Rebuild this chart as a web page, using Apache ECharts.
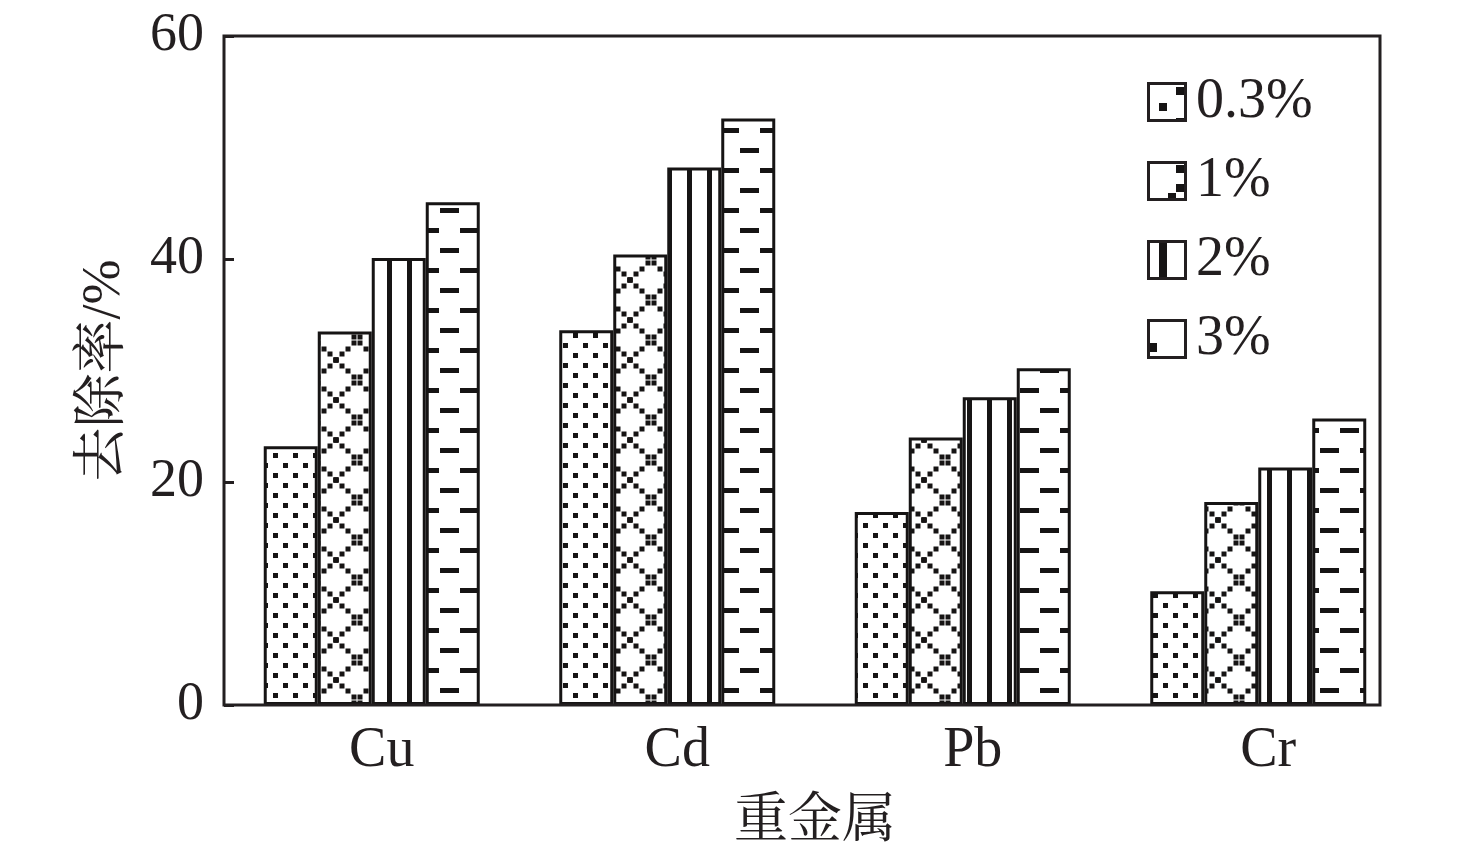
<!DOCTYPE html>
<html><head><meta charset="utf-8">
<script src="https://cdn.jsdelivr.net/npm/echarts@6/dist/echarts.min.js"></script>
<style>html,body{margin:0;padding:0;background:#fff}#c{width:1476px;height:855px}</style>
</head><body><div id="c"></div>
<script>
const categories = ['Cu', 'Cd', 'Pb', 'Cr'];
const seriesNames = ['0.3%', '1%', '2%', '3%'];
const s03 = [23.2, 33.6, 17.3, 10.2];
const s1 = [33.5, 40.4, 24.0, 18.2];
const s2 = [40.1, 48.2, 27.6, 21.3];
const s3 = [45.1, 52.6, 30.2, 25.7];
const yTicks = [0, 20, 40, 60];

const INK = '#161414';
function tile(w, h, draw) {
  const c = document.createElement('canvas');
  c.width = w; c.height = h;
  const g = c.getContext('2d');
  g.fillStyle = '#fff'; g.fillRect(0, 0, w, h);
  g.fillStyle = INK;
  draw(g, w, h);
  return { image: c, repeat: 'repeat' };
}
const patDots = tile(20, 20, g => { g.fillRect(3, 3, 5, 5); g.fillRect(13, 13, 5, 5); });
const patDiamond = tile(42, 40, (g, w, h) => {
  const n = 7;
  for (let i = 0; i <= n; i++) {
    const x = Math.round(i * w / n), y = Math.round(i * h / n);
    for (const [px, py] of [[x, y], [w - x, y]]) {
      for (const ox of [-w, 0, w]) for (const oy of [-h, 0, h]) {
        g.fillRect(px + ox - 2.5, py + oy - 2.5, 5, 5);
      }
    }
  }
});
const patLines = tile(20, 4, g => { g.fillRect(7, 0, 5, 4); });
const patDash = tile(40, 40, g => { g.fillRect(0, 8, 19, 5); g.fillRect(20, 28, 19, 5); });
const patterns = [patDots, patDiamond, patLines, patDash];
const values = [s03, s1, s2, s3];

// legend swatches (magnified pattern pieces as in the original)
function icon(rects) {
  const S = 2, c = document.createElement('canvas');
  c.width = 40 * S; c.height = 40 * S;
  const g = c.getContext('2d');
  g.scale(S, S);
  g.fillStyle = '#fff'; g.fillRect(0, 0, 40, 40);
  g.fillStyle = INK;
  rects.forEach(r => g.fillRect(r[0], r[1], r[2], r[3]));
  g.strokeStyle = '#231f20'; g.lineWidth = 3;
  g.strokeRect(1.5, 1.5, 37, 37);
  return 'image://' + c.toDataURL();
}
const legendIcons = [
  icon([[12, 21, 8, 8], [29, 5, 8, 8], [29, 36, 8, 2]]),
  icon([[29, 4, 8, 8], [29, 23, 8, 8], [21, 32, 8, 8]]),
  icon([[12, 0, 8, 40]]),
  icon([[2, 24, 8, 9]])
];

const serif = "'Liberation Serif', 'Times New Roman', serif";
const cjk = "'Liberation Serif', 'Noto Serif CJK SC', 'Noto Sans CJK SC', serif";

const chart = echarts.init(document.getElementById('c'));
chart.setOption({
  animation: false,
  backgroundColor: '#fff',
  grid: [
    { left: 224, right: 70, top: 36, bottom: 150, outerBoundsMode: 'none', containLabel: false },
    { left: 224, right: 96, top: 36, bottom: 150, outerBoundsMode: 'none', show: true, borderColor: '#231f20', borderWidth: 3, backgroundColor: 'transparent', z: 5 }
  ],
  legend: {
    orient: 'vertical', left: 1147, top: 74, padding: 0, itemWidth: 40, itemHeight: 40, itemGap: 23,
    data: seriesNames.map((n, i) => ({ name: n, icon: legendIcons[i] })),
    textStyle: { fontFamily: serif, fontSize: 56, color: '#231f20', padding: [0, 0, 0, 4] }
  },
  xAxis: [{
    type: 'category', data: categories, gridIndex: 0,
    axisLine: { show: false }, axisTick: { show: false },
    axisLabel: { fontFamily: serif, fontSize: 56, color: '#231f20', margin: 18, padding: [0, 0, 0, 20] },
    name: '重金属', nameLocation: 'middle', nameGap: 91,
    nameTextStyle: { fontFamily: cjk, fontSize: 54, color: '#231f20' }
  }],
  yAxis: [{
    type: 'value', min: 0, max: 60, interval: 20, gridIndex: 0,
    axisLine: { show: false },
    axisTick: { show: true, inside: true, length: 10, lineStyle: { color: '#231f20', width: 3 } },
    splitLine: { show: false },
    axisLabel: { fontFamily: serif, fontSize: 54, color: '#231f20', margin: 20 },
    name: '去除率/%', nameLocation: 'middle', nameGap: 92, nameRotate: 90,
    nameTextStyle: { fontFamily: cjk, fontSize: 54, color: '#231f20' }
  }],
  series: seriesNames.map((n, i) => ({
    name: n, type: 'bar', data: values[i], barWidth: 54, barGap: '0%',
    itemStyle: { color: patterns[i], borderColor: INK, borderWidth: 3 }
  }))
});
</script></body></html>
